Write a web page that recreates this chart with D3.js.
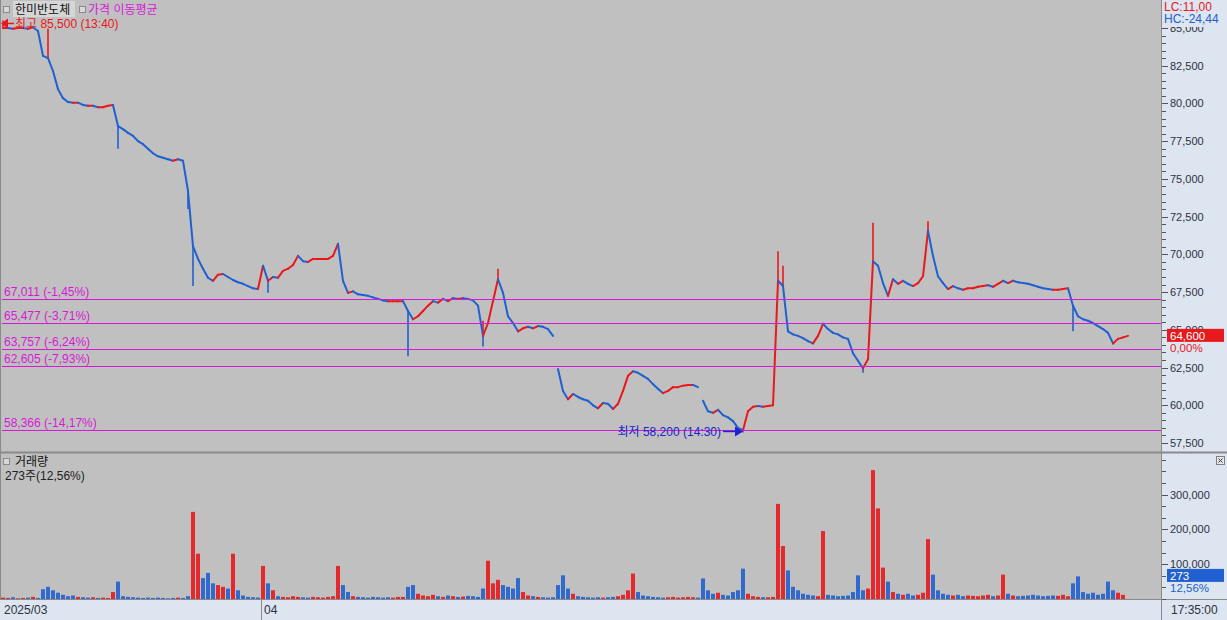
<!DOCTYPE html>
<html>
<head>
<meta charset="utf-8">
<script src="https://cdn.jsdelivr.net/npm/d3@7"></script>
<style>
body { margin: 0; background: #c0c0c0; overflow: hidden; }
text { font-family: "Liberation Sans", "Noto Sans CJK KR", sans-serif; }
</style>
</head>
<body>
<div class="box"></div>
<script>
//////////////////données///////////////////////

// prix (KRW), un point toutes les ~5 px de la courbe
const prix = [
  85000,85000,84950,85000,85000,84950,85050,84800,83150,83000,
  82150,80950,80350,80100,80050,80050,79900,79850,79850,79750,
  79750,79850,79900,78500,78300,78050,77850,77500,77300,77000,
  76700,76500,76400,76300,76200,76300,76200,74200,70550,69700,
  69050,68450,68250,68650,68700,68500,68300,68150,68050,67900,
  67750,67700,69250,68250,68500,68450,68900,69050,69300,69900,
  69550,69500,69700,69700,69700,69700,69900,70700,68250,67450,
  67550,67350,67300,67250,67150,67050,66950,66900,66900,66900,
  66900,66250,65700,65900,66250,66600,66900,66800,67050,66900,
  67100,67050,67100,67050,66950,66600,64600,65450,66900,68350,
  67450,65900,65450,64900,65100,65200,65100,65250,65200,65050,
  64600,62400,60950,60400,60750,60550,60400,60300,60000,59800,
  60150,60100,59750,60100,60950,61950,62250,62150,61950,61750,
  61400,61100,60800,60950,61200,61200,61300,61350,61350,61200,
  60300,59600,59500,59700,59350,59200,58950,58500,58350,59600,
  59900,59950,59900,59950,60000,68250,67900,64900,64700,64600,
  64450,64250,64100,64600,65400,65050,64800,64700,64500,64400,
  63450,62950,62450,63050,69550,69250,68100,67250,68350,68050,
  68250,68050,67900,68100,68550,71550,69900,68550,68100,67700,
  67900,67750,67650,67750,67750,67850,67900,67950,67850,68050,
  68250,68100,68250,68150,68100,68050,67950,67850,67750,67700,
  67650,67650,67700,67750,66600,65900,65700,65600,65450,65250,
  65050,64800,64100,64400,64500,64600
];

// mèches [index, prix extrême]
const pointes = [
  [0, 85500], [9, 84950], [23, 77000], [37, 73000], [38, 67900], [53, 67450],
  [81, 63250], [96, 65600], [96, 63900], [99, 69050], [148, 58200], [155, 70200],
  [156, 69250], [172, 62150], [174, 72100], [185, 72200], [214, 64900], [222, 64050]
];

// coupures de la courbe (début de séance)
const coupures = [111, 140];

// volumes (actions)
const volumes = [
  4000,3000,5000,2000,3000,4000,6000,3000,28000,35000,
  25000,18000,12000,8000,10000,6000,5000,4000,5000,3000,
  4000,3000,20000,50000,8000,6000,5000,4000,3000,4000,
  3000,4000,3000,2000,3000,4000,3000,8000,250000,130000,
  60000,75000,45000,40000,35000,30000,130000,25000,10000,6000,
  5000,4000,95000,45000,25000,8000,6000,5000,8000,6000,
  5000,4000,6000,5000,4000,6000,8000,95000,40000,20000,
  8000,6000,5000,4000,6000,5000,4000,5000,4000,6000,
  6000,35000,40000,15000,10000,8000,12000,8000,6000,10000,
  8000,6000,7000,9000,8000,6000,30000,110000,45000,55000,
  40000,35000,30000,60000,20000,10000,8000,6000,5000,4000,
  5000,40000,68000,30000,15000,8000,6000,5000,4000,5000,
  4000,5000,6000,8000,12000,25000,73000,20000,10000,8000,
  6000,5000,4000,5000,6000,4000,5000,6000,5000,4000,
  59000,25000,15000,18000,12000,10000,20000,25000,87000,15000,
  8000,6000,5000,5000,6000,273000,152000,82000,35000,25000,
  15000,12000,10000,8000,195000,12000,10000,8000,9000,10000,
  20000,68000,25000,30000,370000,260000,90000,50000,20000,15000,
  12000,15000,10000,12000,18000,172000,70000,25000,15000,12000,
  10000,12000,8000,10000,9000,8000,10000,12000,8000,10000,
  70000,15000,10000,8000,9000,10000,12000,10000,8000,9000,
  10000,9000,12000,8000,45000,65000,20000,15000,18000,12000,
  15000,50000,25000,18000,12000,273
];

// lignes horizontales (prix, libellé)
const niveaux = [67011, 65477, 63757, 62605, 58366];
const niveauxLabels = ['67,011 (-1,45%)', '65,477 (-3,71%)', '63,757 (-6,24%)', '62,605 (-7,93%)', '58,366 (-14,17%)'];

const prixTicks = d3.range(57500, 85001, 500);
const volTicks = d3.range(0, 420000, 100000 / 3);
const volLabels = [100000, 200000, 300000];

const dates = [{i: 0, label: '2025/03'}, {i: 52, label: '04'}];

const dernier = 64600, plusHaut = 85500, plusBas = 58200;

//////////////////mise en place///////////////////////

const dims = {width: 1227, height: 620, plotRight: 1161, mainBottom: 452, volTop: 454, volBottom: 599};
const rouge = '#e8181c', bleu = '#2060d0', magenta = '#d818d8', fond = '#c0c0c0', fondAxe = '#dce5f0';

const svg = d3.select('.box')
              .append('svg')
              .attr('width', dims.width)
              .attr('height', dims.height);

svg.append('rect').attr('width', dims.width).attr('height', dims.height).attr('fill', fond);
svg.append('rect').attr('x', dims.plotRight).attr('width', dims.width - dims.plotRight).attr('height', dims.height).attr('fill', fondAxe);
svg.append('rect').attr('y', 600).attr('width', dims.width).attr('height', 20).attr('fill', fondAxe);

// bordures
const bord = svg.append('g').attr('stroke', '#8a8a8a').attr('stroke-width', 1);
bord.append('line').attr('x1', 0.5).attr('x2', 0.5).attr('y1', 0).attr('y2', 600);
bord.append('line').attr('x1', dims.plotRight + 0.5).attr('x2', dims.plotRight + 0.5).attr('y1', 0).attr('y2', 620);
bord.append('line').attr('x1', 0).attr('x2', dims.width).attr('y1', 452.5).attr('y2', 452.5).attr('stroke-width', 2);
bord.append('line').attr('x1', 0).attr('x2', dims.width).attr('y1', 599.5).attr('y2', 599.5);

//////////////////échelles///////////////////////

const x = d3.scaleLinear().domain([0, prix.length - 1]).range([3, 1128]);
const y = d3.scaleLinear().domain([57500, 85000]).range([443, 28]);
const yv = d3.scaleLinear().domain([0, 300000]).range([dims.volBottom, 494.5]);

svg.append('clipPath').attr('id', 'clipMain')
   .append('rect').attr('x', 1).attr('width', dims.plotRight - 1).attr('height', dims.mainBottom - 1);

const graph = svg.append('g').attr('clip-path', 'url(#clipMain)');

//////////////////courbe des prix///////////////////////

const points = prix.map((p, i) => ({i, p}));
const segments = d3.pairs(points).filter(([a, b]) => !coupures.includes(b.i));

graph.selectAll('line.pointe')
     .data(pointes)
     .enter()
     .append('line')
     .attr('class', 'pointe')
     .attr('x1', d => x(d[0])).attr('x2', d => x(d[0]))
     .attr('y1', d => y(prix[d[0]])).attr('y2', d => y(d[1]))
     .attr('stroke', d => d[1] > prix[d[0]] ? rouge : bleu)
     .attr('stroke-width', 1.6);

graph.selectAll('line.seg')
     .data(segments)
     .enter()
     .append('line')
     .attr('class', 'seg')
     .attr('x1', d => x(d[0].i)).attr('y1', d => y(d[0].p))
     .attr('x2', d => x(d[1].i)).attr('y2', d => y(d[1].p))
     .attr('stroke', d => d[1].p >= d[0].p ? rouge : bleu)
     .attr('stroke-width', 2)
     .attr('stroke-linecap', 'round');

//////////////////lignes magenta///////////////////////

graph.selectAll('rect.niveau')
     .data(niveaux)
     .enter()
     .append('rect')
     .attr('class', 'niveau')
     .attr('x', 2).attr('width', dims.plotRight - 2)
     .attr('y', d => Math.round(y(d))).attr('height', 1)
     .attr('fill', magenta);

graph.selectAll('text.niveau')
     .data(niveaux)
     .enter()
     .append('text')
     .attr('class', 'niveau')
     .attr('x', 4).attr('y', d => Math.round(y(d)) - 3)
     .attr('font-size', 12).attr('fill', magenta)
     .text((d, i) => niveauxLabels[i]);

//////////////////marques haut / bas///////////////////////

const yHaut = y(plusHaut) + 3;
graph.append('line').attr('x1', 3).attr('x2', 14).attr('y1', yHaut).attr('y2', yHaut).attr('stroke', rouge).attr('stroke-width', 1.5);
graph.append('path').attr('d', `M1,${yHaut} L8,${yHaut - 5} L8,${yHaut + 5} Z`).attr('fill', rouge);
svg.append('text').attr('x', 15).attr('y', 28).attr('font-size', 12).attr('fill', rouge)
   .text(`최고 ${d3.format(',')(plusHaut)} (13:40)`);

const iBas = pointes.find(d => d[1] === plusBas)[0];
const yBas = y(plusBas) - 1;
const xBas = x(iBas);
graph.append('line').attr('x1', xBas - 20).attr('x2', xBas - 4).attr('y1', yBas).attr('y2', yBas).attr('stroke', '#2020d0').attr('stroke-width', 1.5);
graph.append('path').attr('d', `M${xBas},${yBas} L${xBas - 8},${yBas - 5} L${xBas - 8},${yBas + 5} Z`).attr('fill', '#2020d0');
graph.append('text').attr('x', xBas - 22).attr('y', yBas + 5).attr('text-anchor', 'end')
     .attr('font-size', 12).attr('fill', '#2020d0')
     .text(`최저 ${d3.format(',')(plusBas)} (14:30)`);

//////////////////volumes///////////////////////

svg.append('clipPath').attr('id', 'clipVol')
   .append('rect').attr('x', 1).attr('y', dims.volTop).attr('width', dims.plotRight - 1).attr('height', dims.volBottom - dims.volTop);

svg.append('g').attr('clip-path', 'url(#clipVol)')
   .selectAll('rect')
   .data(volumes)
   .enter()
   .append('rect')
   .attr('x', (d, i) => x(i) - 2)
   .attr('width', 4)
   .attr('y', d => yv(d))
   .attr('height', d => dims.volBottom - yv(d))
   .attr('fill', (d, i) => (d >= 90000 || i === 0 || prix[i] >= prix[i - 1]) ? rouge : bleu)
   .attr('opacity', 0.9);

//////////////////axe des prix///////////////////////

const axe = svg.append('g');

axe.selectAll('line.tp')
   .data(prixTicks)
   .enter()
   .append('line')
   .attr('class', 'tp')
   .attr('x1', dims.plotRight + 1)
   .attr('x2', d => dims.plotRight + (d % 2500 === 0 ? 7 : 5))
   .attr('y1', d => Math.round(y(d)) + 0.5).attr('y2', d => Math.round(y(d)) + 0.5)
   .attr('stroke', '#555');

axe.selectAll('text.tp')
   .data(prixTicks.filter(d => d % 2500 === 0))
   .enter()
   .append('text')
   .attr('class', 'tp')
   .attr('x', dims.plotRight + 9).attr('y', d => y(d) + 4)
   .attr('font-size', 11).attr('fill', '#303040')
   .text(d => d3.format(',')(d));

// cache du haut (LC / HC)
axe.append('rect').attr('x', dims.plotRight + 1).attr('width', dims.width - dims.plotRight).attr('height', 27).attr('fill', fondAxe);
axe.append('text').attr('x', 1164).attr('y', 11).attr('font-size', 12).attr('fill', rouge).text('LC:11,00');
axe.append('text').attr('x', 1164).attr('y', 23).attr('font-size', 12).attr('fill', bleu).text('HC:-24,44');

// étiquette du dernier prix
const yDernier = y(dernier);
axe.append('rect').attr('x', 1167).attr('y', yDernier - 7).attr('width', 57).attr('height', 13).attr('fill', rouge);
axe.append('text').attr('x', 1170).attr('y', yDernier + 4).attr('font-size', 11.5).attr('fill', 'white').text(d3.format(',')(dernier));
axe.append('text').attr('x', 1170).attr('y', yDernier + 16).attr('font-size', 11.5).attr('fill', rouge).text('0,00%');

//////////////////axe des volumes///////////////////////

axe.selectAll('line.tv')
   .data(volTicks.filter(d => yv(d) > dims.volTop + 3))
   .enter()
   .append('line')
   .attr('class', 'tv')
   .attr('x1', dims.plotRight + 1)
   .attr('x2', d => dims.plotRight + (volLabels.some(v => Math.abs(v - d) < 1) ? 7 : 5))
   .attr('y1', d => Math.round(yv(d)) + 0.5).attr('y2', d => Math.round(yv(d)) + 0.5)
   .attr('stroke', '#555');

axe.selectAll('text.tv')
   .data(volLabels)
   .enter()
   .append('text')
   .attr('class', 'tv')
   .attr('x', dims.plotRight + 9).attr('y', d => yv(d) + 4)
   .attr('font-size', 11).attr('fill', '#303040')
   .text(d => d3.format(',')(d));

const dernierVol = volumes[volumes.length - 1];
const yVol = yv(dernierVol) - 24;
axe.append('rect').attr('x', 1167).attr('y', yVol - 6).attr('width', 57).attr('height', 13).attr('fill', bleu);
axe.append('text').attr('x', 1170).attr('y', yVol + 5).attr('font-size', 11.5).attr('fill', 'white').text(dernierVol);
axe.append('text').attr('x', 1170).attr('y', yVol + 17).attr('font-size', 11.5).attr('fill', bleu).text('12,56%');

// bouton fermer
axe.append('rect').attr('x', 1216.5).attr('y', 456.5).attr('width', 8).attr('height', 8).attr('fill', '#e8e8e8').attr('stroke', '#808080');
axe.append('path').attr('d', 'M1218.5,458.5 L1222.5,462.5 M1222.5,458.5 L1218.5,462.5').attr('stroke', '#333');

//////////////////axe du temps///////////////////////

const pas = x(1) - x(0);
const temps = svg.append('g');
temps.selectAll('line')
     .data(dates.filter(d => d.i > 0))
     .enter()
     .append('line')
     .attr('x1', d => Math.round(x(d.i) - pas / 2) + 0.5).attr('x2', d => Math.round(x(d.i) - pas / 2) + 0.5)
     .attr('y1', 600).attr('y2', 620)
     .attr('stroke', '#8a8a8a');
temps.selectAll('text')
     .data(dates)
     .enter()
     .append('text')
     .attr('x', d => d.i === 0 ? 4 : Math.round(x(d.i) - pas / 2) + 3)
     .attr('y', 614)
     .attr('font-size', 12).attr('fill', '#303040')
     .text(d => d.label);
temps.append('text').attr('x', 1171).attr('y', 614).attr('font-size', 12).attr('fill', '#303040').text('17:35:00');

//////////////////légendes///////////////////////

const carre = (cx, cy) => svg.append('rect').attr('x', cx + 0.5).attr('y', cy + 0.5).attr('width', 6).attr('height', 6)
                              .attr('fill', '#d8d8d8').attr('stroke', '#8a8a8a');

carre(3, 6);
svg.append('rect').attr('x', 13).attr('y', 1).attr('width', 62).attr('height', 16).attr('fill', '#d6d6d6');
svg.append('text').attr('x', 15).attr('y', 14).attr('font-size', 12).attr('fill', '#111').text('한미반도체');
carre(79, 6);
svg.append('text').attr('x', 88).attr('y', 14).attr('font-size', 12).attr('fill', magenta).text('가격 이동평균');

carre(3, 458);
svg.append('text').attr('x', 15).attr('y', 466).attr('font-size', 12).attr('fill', '#111').text('거래량');
svg.append('text').attr('x', 5).attr('y', 480).attr('font-size', 12).attr('fill', '#202020')
   .text(`${dernierVol}주(12,56%)`);
</script>
</body>
</html>
